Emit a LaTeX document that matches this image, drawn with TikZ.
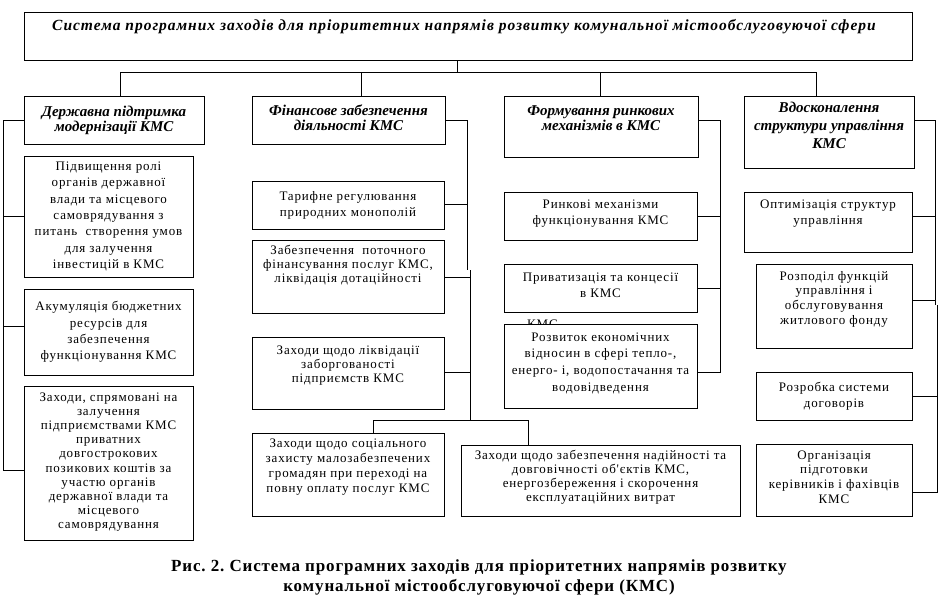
\documentclass[tikz,border=0pt]{standalone}
\usepackage{fontspec}
\setmainfont{Liberation Serif}
\newfontfamily\boxfont[LetterSpace=6.5]{Liberation Serif}
\newfontfamily\capfont[LetterSpace=5]{Liberation Serif}
\newfontfamily\ttlfont[LetterSpace=6.3]{Liberation Serif}
\frenchspacing
\usetikzlibrary{calc}
\newcommand\mkbox[5]{\node[box,anchor=north west,minimum width={(#4-#2)*1pt},minimum height={(#5-#3)*1pt}] (#1) at (#2,#3) {};}
\tikzset{
  box/.style={draw, line width=1pt, inner sep=0pt, outer sep=0pt, fill=white},
  txt/.style={align=center, inner sep=0pt, font=\boxfont\fontsize{13}{16}\selectfont},
  txtt/.style={align=center, inner sep=0pt, font=\boxfont\fontsize{13}{14}\selectfont},
  hdr/.style={align=center, inner sep=0pt, font=\fontsize{15}{15}\selectfont\bfseries\itshape},
  conn/.style={line width=0.9pt},
}
\begin{document}
\begin{tikzpicture}[x=1pt,y=-1pt]
\useasboundingbox (0,0) rectangle (949,613);
% title
\mkbox{top}{24}{12}{912}{60}
\node[align=center, inner sep=0pt, font=\ttlfont\fontsize{15.5}{16}\selectfont\bfseries\itshape, anchor=west] (ttl) at (52,27) {Система програмних заходів для пріоритетних напрямів розвитку комунальної містообслуговуючої сфери};
% headers
\mkbox{h1}{24}{96}{204}{144}
\mkbox{h2}{252}{96}{445}{144}
\mkbox{h3}{504}{96}{698}{157}
\mkbox{h4}{744}{96}{914}{168}
\node[hdr] (t1) at (h1.center) {Державна підтримка\\модернізації КМС};
\node[hdr] (t2) at ($(h2.center)+(0,-2)$) {Фінансове забезпечення\\діяльності КМС};
\node[hdr, anchor=north] (t3) at (h3.north |- 0,105) {Формування ринкових\\механізмів в КМС};
\node[hdr, font=\fontsize{15}{18}\selectfont\bfseries\itshape, anchor=north] (t4) at (h4.north |- 0,102) {Вдосконалення\\структури управління\\КМС};
% column 1
\mkbox{b11}{24}{156}{193}{277}
\mkbox{b12}{24}{289}{193}{375}
\mkbox{b13}{24}{386}{193}{540}
\node[txt, font=\boxfont\fontsize{13}{16.3}\selectfont] at (b11.center) {Підвищення ролі\\органів державної\\влади та місцевого\\самоврядування з\\питань\ \ створення умов\\для залучення\\інвестицій в КМС};
\node[txt, font=\boxfont\fontsize{13}{16.3}\selectfont] at (b12.center) {Акумуляція бюджетних\\ресурсів для\\забезпечення\\функціонування КМС};
\node[txt, font=\boxfont\fontsize{13}{14.2}\selectfont] at ($(b13.center)+(0,-1)$) {Заходи, спрямовані на\\залучення\\підприємствами КМС\\приватних\\довгострокових\\позикових коштів за\\участю органів\\державної влади та\\місцевого\\самоврядування};
% column 2
\mkbox{b21}{252}{181}{444}{229}
\mkbox{b22}{252}{240}{444}{313}
\mkbox{b23}{252}{337}{444}{409}
\mkbox{b24}{252}{433}{444}{516}
\mkbox{b25}{461}{445}{740}{516}
\node[txt] at (b21.center) {Тарифне регулювання\\природних монополій};
\node[txtt, anchor=north] at (b22.north |- 0,245) {Забезпечення\ \ поточного\\фінансування послуг КМС,\\ліквідація дотаційності};
\node[txtt, anchor=north] at (b23.north |- 0,346) {Заходи щодо ліквідації\\заборгованості\\підприємств КМС};
\node[txt, font=\boxfont\fontsize{13}{15}\selectfont, anchor=north] at (b24.north |- 0,439) {Заходи щодо соціального\\захисту малозабезпечених\\громадян при переході на\\повну оплату послуг КМС};
\node[txtt, anchor=north] at (b25.north |- 0,450) {Заходи щодо забезпечення надійності та\\довговічності об'єктів КМС,\\енергозбереження і скорочення\\експлуатаційних витрат};
% column 3
\mkbox{b31}{504}{192}{697}{240}
\mkbox{b32}{504}{264}{697}{312}
\node[txt, anchor=north west] (stray) at (527,320) {КМС};
\mkbox{b33}{504}{324}{697}{408}
\node[txt] at ($(b31.center)+(0,-2)$) {Ринкові механізми\\функціонування КМС};
\node[txt, anchor=north] at (b32.north |- 0,273) {Приватизація та концесії\\в КМС};
\node[txt, font=\boxfont\fontsize{13}{16.7}\selectfont] at ($(b33.center)+(0,-3)$) {Розвиток економічних\\відносин в сфері тепло-,\\енерго- і, водопостачання та\\водовідведення};
% column 4
\mkbox{b41}{744}{192}{912}{252}
\mkbox{b42}{756}{264}{912}{348}
\mkbox{b43}{756}{372}{912}{420}
\mkbox{b44}{756}{444}{912}{516}
\node[txt, anchor=north] at (b41.north |- 0,200) {Оптимізація структур\\управління};
\node[txt, font=\boxfont\fontsize{13}{14.7}\selectfont, anchor=north] at (b42.north |- 0,271) {Розподіл функцій\\управління і\\обслуговування\\житлового фонду};
\node[txt] at (b43.center) {Розробка системи\\договорів};
\node[txt, font=\boxfont\fontsize{13}{14.7}\selectfont] at ($(b44.center)+(0,-3)$) {Організація\\підготовки\\керівників і фахівців\\КМС};
% caption
\node[align=center, inner sep=0pt, font=\capfont\fontsize{17}{20}\selectfont\bfseries] (cap) at (479,577) {Рис. 2. Система програмних заходів для пріоритетних напрямів розвитку\\комунальної містообслуговуючої сфери (КМС)};
% top tree
\coordinate (S) at (457,72);
\coordinate (D1) at (120,72);
\coordinate (D2) at (361,72);
\coordinate (D3) at (600,72);
\coordinate (D4) at (816,72);
\draw[conn] (top.south -| S) -- (S);
\draw[conn] (D1) -- (D4);
\draw[conn] (D1) -- (D1 |- h1.north);
\draw[conn] (D2) -- (D2 |- h2.north);
\draw[conn] (D3) -- (D3 |- h3.north);
\draw[conn] (D4) -- (D4 |- h4.north);
% column 1 rail
\coordinate (L0) at (3,120);
\coordinate (L1) at (3,216);
\coordinate (L2) at (3,326);
\coordinate (L3) at (3,470);
\draw[conn] (h1.west |- L0) -- (L0) -- (L3) -- (L3 -| b13.west);
\draw[conn] (L1) -- (L1 -| b11.west);
\draw[conn] (L2) -- (L2 -| b12.west);
% column 2 rail
\coordinate (R2a) at (467,120);
\coordinate (R2b) at (467,270);
\coordinate (R2c) at (470,270);
\coordinate (R2d) at (470,420);
\coordinate (Y21) at (467,204);
\coordinate (Y22) at (470,277);
\coordinate (Y23) at (470,372);
\coordinate (B2l) at (373,420);
\draw[conn] (h2.east |- R2a) -- (R2a) -- (R2b);
\draw[conn] (R2c) -- (R2d);
\draw[conn] (Y21 -| b21.east) -- (Y21);
\draw[conn] (Y22 -| b22.east) -- (Y22);
\draw[conn] (Y23 -| b23.east) -- (Y23);
\coordinate (B2r) at (528,420);
\draw[conn] (b24.north -| B2l) -- (B2l) -- (B2r) -- (b25.north -| B2r);
% column 3 rail
\coordinate (R3a) at (720,120);
\coordinate (R3b) at (720,372);
\coordinate (Y31) at (720,216);
\coordinate (Y32) at (720,288);
\draw[conn] (h3.east |- R3a) -- (R3a) -- (R3b) -- (R3b -| b33.east);
\draw[conn] (Y31 -| b31.east) -- (Y31);
\draw[conn] (Y32 -| b32.east) -- (Y32);
% column 4 rail
\coordinate (R4a) at (935,120);
\coordinate (R4b) at (935,305);
\coordinate (R4c) at (937,305);
\coordinate (R4d) at (937,492);
\coordinate (Y41) at (935,216);
\coordinate (Y42) at (935,300);
\coordinate (Y43) at (937,396);
\draw[conn] (h4.east |- R4a) -- (R4a) -- (R4b);
\draw[conn] (R4c) -- (R4d) -- (R4d -| b44.east);
\draw[conn] (Y41 -| b41.east) -- (Y41);
\draw[conn] (Y42 -| b42.east) -- (Y42);
\draw[conn] (Y43 -| b43.east) -- (Y43);
\end{tikzpicture}
\end{document}
